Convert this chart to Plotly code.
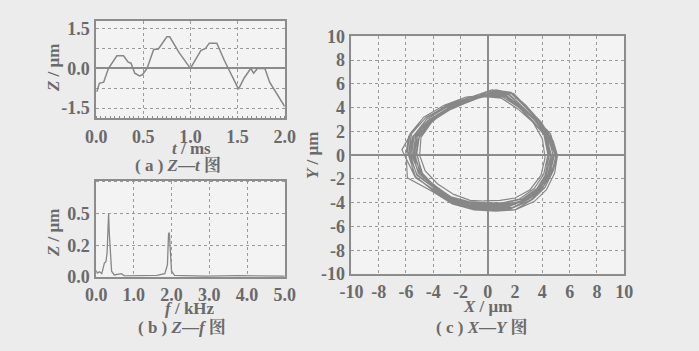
import plotly.graph_objects as go

# (a) Z-t
t_ms = [0.007, 0.034, 0.08, 0.13, 0.22, 0.29, 0.34, 0.37, 0.41, 0.46, 0.49, 0.54, 0.61, 0.66, 0.75, 0.78,
        0.88, 1.0, 1.11, 1.16, 1.2, 1.28, 1.36, 1.51, 1.57, 1.64, 1.67, 1.71, 1.79, 1.84, 2.0]
z_t = [-0.88, -0.56, -0.52, 0.0, 0.48, 0.48, 0.24, 0.2, -0.18, -0.28, -0.24, 0.0, 0.72, 0.74, 1.2, 1.2,
       0.6, 0.0, 0.68, 0.76, 0.96, 0.96, 0.3, -0.78, -0.36, 0.0, -0.18, 0.0, 0.0, -0.52, -1.44]

# (b) Z-f
f_khz = [0.0, 0.03, 0.09, 0.15, 0.22, 0.26, 0.29, 0.33, 0.35, 0.38, 0.41, 0.48, 0.67, 0.75, 1.18, 1.61,
         1.82, 1.89, 1.92, 1.94, 1.97, 2.0, 2.08, 2.9, 3.75, 4.6, 5.0]
z_f = [0.05, 0.03, 0.04, 0.025, 0.11, 0.12, 0.19, 0.5, 0.34, 0.14, 0.045, 0.015, 0.025, 0.008, 0.01, 0.012,
       0.025, 0.095, 0.34, 0.35, 0.19, 0.045, 0.012, 0.005, 0.01, 0.005, 0.005]

# (c) X-Y orbit (several revolutions)
xy_x = [0.3, 1.7, 2.7, 3.6, 4.6, 5.1, 4.9, 4.3, 3.4, 2.0, 0.6, -1.0, -2.6, -4.0, -5.9, -6.0, -5.8, -4.6, -3.0, -1.3,
        0.0, 1.0, 2.2, 3.3, 4.0, 4.2, 3.9, 3.1, 2.0, 0.9, -0.3, -1.3, -2.5, -3.7, -4.6, -5.0, -4.9, -4.1, -3.0, -1.6,
        0.2, 1.4, 2.5, 3.5, 4.3, 4.7, 4.4, 3.7, 2.6, 1.4, 0.0, -1.4, -2.8, -4.0, -5.1, -5.5, -5.3, -4.3, -2.8, -1.3,
        0.4, 1.6, 2.6, 3.7, 4.5, 4.9, 4.6, 3.9, 2.8, 1.6, 0.2, -1.2, -2.7, -3.9, -5.2, -5.8, -5.5, -4.4, -2.9, -1.4,
        0.1, 1.3, 2.3, 3.4, 4.2, 4.5, 4.2, 3.5, 2.4, 1.2, -0.1, -1.5, -2.9, -4.1, -5.0, -5.3, -5.1, -4.0, -2.6, -1.1,
        0.5, 1.8, 2.8, 3.8, 4.7, 5.0, 4.7, 4.1, 3.2, 1.9, 0.4, -1.1, -2.5, -3.8, -5.3, -6.3, -5.6, -4.5, -3.1, -1.5,
        0.0, 1.2, 2.4, 3.2, 4.1, 4.4, 4.3, 3.6, 2.5, 1.3, -0.2, -1.6, -3.0, -4.2, -4.9, -5.2, -5.0, -4.2, -2.7, -1.2,
        0.2, 1.5, 2.6, 3.4, 4.4, 4.8, 4.5, 3.8, 2.7, 1.5, 0.1, -1.3, -2.7, -3.9, -5.0, -5.6, -5.4, -4.4, -2.9, -1.2,
        0.3, 1.5, 2.4, 3.6, 4.4, 4.6, 4.5, 3.8, 2.9, 1.7, 0.3, -1.0, -2.4, -3.6, -4.8, -5.4, -5.2, -4.1, -2.7, -1.4,
        0.1, 1.6, 2.7, 3.5, 4.5, 4.8, 4.6, 4.0, 3.0, 1.8, 0.2, -1.4, -2.9, -4.0, -5.2, -5.7, -5.4, -4.5, -3.1, -1.5,
        -0.1, 1.1, 2.3, 3.3, 4.2, 4.4, 4.1, 3.4, 2.3, 1.1, -0.1, -1.4, -2.7, -3.9, -4.8, -5.2, -5.2, -4.2, -2.8, -1.4,
        0.6, 1.9, 2.9, 3.9, 4.8, 5.1, 4.8, 4.2, 3.3, 2.0, 0.5, -1.0, -2.6, -3.9, -5.3, -5.9, -5.7, -4.7, -3.2, -1.6,
        0.2, 1.3, 2.5, 3.6, 4.3, 4.6, 4.3, 3.6, 2.7, 1.5, 0.0, -1.3, -2.6, -3.8, -4.9, -5.4, -5.3, -4.3, -2.9, -1.3,
        0.4, 1.7, 2.8, 3.7, 4.6, 5.0, 4.7, 4.0, 3.1, 1.7, 0.3, -1.2, -2.8, -4.1, -5.4, -5.8, -5.6, -4.6, -3.0, -1.5,
        0.3]
xy_y = [5.5, 5.3, 4.1, 3.0, 1.8, -0.1, -1.5, -2.9, -3.9, -4.6, -4.7, -4.6, -4.1, -3.1, -1.9, 0.2, 1.6, 3.1, 4.2, 4.9,
        4.9, 4.8, 3.9, 2.8, 1.4, -0.2, -1.7, -2.9, -3.6, -3.8, -3.85, -3.8, -3.3, -2.4, -1.3, 0.0, 1.5, 2.8, 3.8, 4.4,
        5.2, 5.0, 4.0, 2.9, 1.6, -0.2, -1.6, -2.9, -3.8, -4.2, -4.25, -4.2, -3.6, -2.6, -1.5, 0.0, 1.5, 3.0, 4.0, 4.7,
        5.3, 5.1, 3.8, 2.7, 1.5, 0.1, -1.4, -2.7, -3.7, -4.3, -4.4, -4.4, -3.8, -2.8, -1.6, 0.1, 1.6, 2.9, 4.0, 4.7,
        5.1, 4.9, 4.1, 3.0, 1.7, 0.0, -1.7, -3.0, -3.9, -4.1, -4.1, -4.0, -3.5, -2.5, -1.4, -0.1, 1.4, 3.0, 4.1, 4.8,
        5.4, 5.2, 4.2, 2.9, 1.3, -0.3, -1.3, -2.6, -3.5, -4.4, -4.5, -4.5, -4.0, -3.0, -1.9, 0.45, 1.9, 3.2, 4.1, 4.6,
        5.0, 5.0, 3.9, 2.9, 1.8, 0.1, -1.5, -2.8, -3.7, -4.0, -4.05, -3.95, -3.4, -2.4, -1.4, 0.2, 1.7, 2.9, 3.9, 4.6,
        5.3, 5.2, 4.0, 3.1, 1.7, 0.0, -1.6, -2.8, -3.8, -4.3, -4.3, -4.3, -3.7, -2.7, -1.6, 0.0, 1.6, 2.9, 4.0, 4.8,
        5.2, 5.1, 4.2, 2.8, 1.5, -0.1, -1.5, -2.7, -3.6, -4.2, -4.3, -4.2, -3.8, -2.8, -1.7, -0.2, 1.5, 3.1, 4.1, 4.6,
        5.4, 5.1, 3.9, 3.0, 1.6, -0.1, -1.4, -2.8, -3.7, -4.4, -4.4, -4.3, -3.8, -2.7, -1.7, 0.1, 1.7, 3.0, 4.0, 4.7,
        5.0, 4.9, 4.0, 2.9, 1.6, 0.0, -1.6, -2.8, -3.7, -4.0, -4.0, -3.9, -3.5, -2.6, -1.5, 0.0, 1.5, 2.8, 3.8, 4.5,
        5.5, 5.2, 4.0, 2.8, 1.2, 0.0, -1.3, -2.7, -3.7, -4.6, -4.6, -4.6, -4.0, -3.0, -1.8, 0.3, 1.8, 3.2, 4.2, 4.9,
        5.1, 5.0, 4.1, 2.9, 1.5, -0.1, -1.6, -2.9, -3.8, -4.1, -4.2, -4.1, -3.6, -2.6, -1.6, 0.1, 1.6, 2.9, 3.9, 4.6,
        5.4, 5.2, 4.0, 2.9, 1.4, 0.0, -1.5, -2.8, -3.8, -4.5, -4.5, -4.4, -3.9, -2.9, -1.7, 0.2, 1.8, 3.1, 4.1, 4.8,
        5.5]

a_xticks = [0, 0.5, 1.0, 1.5, 2.0]
a_xlabels = ["0.0", "0.5", "1.0", "1.5", "2.0"]
a_yticks = [-1.5, -0.75, 0, 0.75, 1.5]
a_ylabels = ["-1.5", "", "0.0", "", "1.5"]
b_xticks = [0, 1, 2, 3, 4, 5]
b_xlabels = ["0.0", "1.0", "2.0", "3.0", "4.0", "5.0"]
b_yticks = [0, 0.25, 0.5, 0.75]
b_ylabels = ["0.0", "0.2", "0.5", ""]
c_ticks = [-10, -8, -6, -4, -2, 0, 2, 4, 6, 8, 10]
c_labels = ["-10", "-8", "-6", "-4", "-2", "0", "2", "4", "6", "8", "10"]

W, H = 699, 351
LINE = "#878787"
TXT = "#6a6a6a"
GRID = "#9a9a9a"
FONT = "Liberation Serif, Noto Serif CJK SC, Noto Sans CJK SC, serif"
tickfont = dict(family=FONT, size=18, color=TXT, weight="bold")

def px_x(p):
    return p / W

def px_y(p):
    return 1 - p / H

fig = go.Figure()
fig.add_trace(go.Scatter(x=t_ms, y=z_t, mode="lines", line=dict(color=LINE, width=1.5), xaxis="x", yaxis="y"))
fig.add_trace(go.Scatter(x=f_khz, y=z_f, mode="lines", line=dict(color=LINE, width=1.3), xaxis="x2", yaxis="y2"))
fig.add_trace(go.Scatter(x=xy_x, y=xy_y, mode="lines", line=dict(color=LINE, width=1.2), xaxis="x3", yaxis="y3"))

common = dict(showline=True, mirror=True, linecolor="#8c8c8c", linewidth=1.5, showgrid=True,
              gridcolor=GRID, griddash="dot", gridwidth=1, ticks="", tickfont=tickfont,
              tickmode="array", zeroline=False, fixedrange=True, ticklabelstandoff=1)

fig.update_layout(
    width=W, height=H, margin=dict(l=0, r=0, t=0, b=0),
    paper_bgcolor="#ececec", plot_bgcolor="#f3f3f3", showlegend=False,
    font=dict(family=FONT, color=TXT, size=16),
    xaxis=dict(common, domain=[px_x(87), px_x(282)], range=[0, 2], tickvals=a_xticks, ticktext=a_xlabels,
               anchor="y", minor=dict(ticks="inside", dtick=0.05, ticklen=3, tickcolor="#8c8c8c", showgrid=False)),
    yaxis=dict(common, domain=[px_y(115), px_y(12)], range=[-1.893, 1.786], tickvals=a_yticks,
               ticktext=a_ylabels, anchor="x", zeroline=True, zerolinecolor="#8c8c8c", zerolinewidth=1.5),
    xaxis2=dict(common, domain=[px_x(87), px_x(282)], range=[0, 5], tickvals=b_xticks, ticktext=b_xlabels,
                anchor="y2"),
    yaxis2=dict(common, domain=[px_y(283), px_y(181)], range=[0, 0.76], tickvals=b_yticks,
                ticktext=b_ylabels, anchor="x2"),
    xaxis3=dict(common, domain=[px_x(351), px_x(633)], range=[-10, 10], tickvals=c_ticks, ticktext=c_labels,
                anchor="y3", zeroline=True, zerolinecolor="#8c8c8c", zerolinewidth=1.5),
    yaxis3=dict(common, domain=[px_y(280), px_y(28)], range=[-10, 10], tickvals=c_ticks, ticktext=c_labels,
                anchor="x3", zeroline=True, zerolinecolor="#8c8c8c", zerolinewidth=1.5),
)

def ann(x, y, text, angle=0, size=17):
    fig.add_annotation(x=px_x(x), y=px_y(y), xref="paper", yref="paper", text=text, showarrow=False,
                       textangle=angle, font=dict(family=FONT, size=size, color=TXT, weight="bold"),
                       xanchor="center", yanchor="middle")

ann(186, 147, "<i>t</i> / ms")
ann(43, 62, "<i>Z</i> / μm", angle=-90)
ann(172, 165, "( a ) <i>Z</i>—<i>t</i> 图")
ann(184, 317, "<i>f</i> / kHz")
ann(43, 237, "<i>Z</i> / μm", angle=-90)
ann(176, 337, "( b ) <i>Z</i>—<i>f</i> 图")
ann(492, 314, "<i>X</i> / μm")
ann(310, 154, "<i>Y</i> / μm", angle=-90)
ann(486, 337, "( c ) <i>X</i>—<i>Y</i> 图")

fig.write_html("out.html", config={"displayModeBar": False},
               post_script="document.body.style.margin='0';document.body.style.overflow='hidden';")
